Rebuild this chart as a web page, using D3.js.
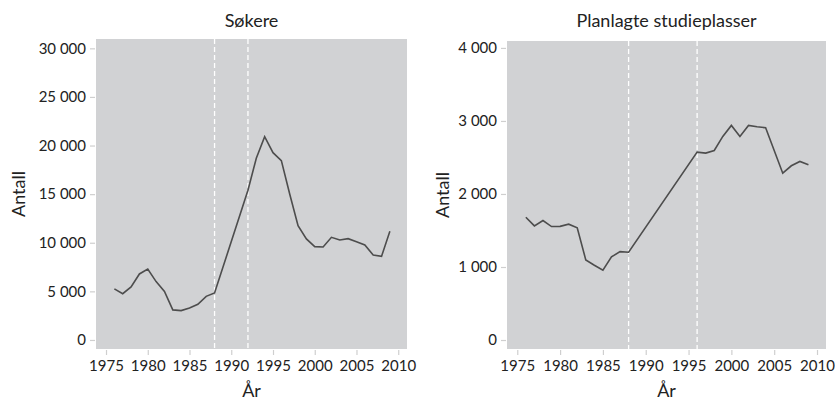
<!DOCTYPE html>
<html>
<head>
<meta charset="utf-8">
<script src="https://cdn.jsdelivr.net/npm/d3@7"></script>
<style>
  body { margin: 0; background: #fff; }
  svg text { font-family: Lato, "Open Sans", sans-serif; fill: #222; }
</style>
</head>
<body>
<div id="viz"></div>
<script>
// Søkere (applicants), 1989-1991 missing in source
const sokereYears = [1976, 1977, 1978, 1979, 1980, 1981, 1982, 1983, 1984, 1985, 1986, 1987, 1988,
  1992, 1993, 1994, 1995, 1996, 1997, 1998, 1999, 2000, 2001, 2002, 2003, 2004, 2005, 2006, 2007, 2008, 2009];
const sokereValues = [5250, 4760, 5450, 6790, 7300, 6000, 5000, 3090, 3020, 3290, 3670, 4490, 4830,
  15400, 18690, 20910, 19270, 18450, 15020, 11760, 10390, 9600, 9570, 10560, 10290, 10420, 10110, 9770, 8740, 8600, 11180];

// Planlagte studieplasser (planned study places)
const plasserYears = [1976, 1977, 1978, 1979, 1980, 1981, 1982, 1983, 1984, 1985, 1986, 1987, 1988,
  1996, 1997, 1998, 1999, 2000, 2001, 2002, 2003, 2004, 2006, 2007, 2008, 2009];
const plasserValues = [1682, 1563, 1636, 1554, 1556, 1586, 1536, 1097, 1024, 955, 1138, 1211, 1202,
  2573, 2560, 2596, 2788, 2939, 2788, 2939, 2920, 2907, 2285, 2386, 2445, 2400];

const xTicks = [1975, 1980, 1985, 1990, 1995, 2000, 2005, 2010];
const sokereTicks = [0, 5000, 10000, 15000, 20000, 25000, 30000];
const plasserTicks = [0, 1000, 2000, 3000, 4000];
const sokereMarkers = [1988, 1992];
const plasserMarkers = [1988, 1996];

const fmt = v => d3.format(",")(v).replace(/,/g, " ");

const svg = d3.select("#viz").append("svg")
  .attr("width", 835)
  .attr("height", 401);

function panel(opts) {
  const {left, right, top, bottom, title, years, values, yTicks, yDomain, markers} = opts;
  const g = svg.append("g");

  const x = d3.scaleLinear().domain([1973.8, 2011.05]).range([left, right]);
  const y = d3.scaleLinear().domain(yDomain).range([bottom, top]);

  g.append("rect")
    .attr("x", left).attr("y", top)
    .attr("width", right - left).attr("height", bottom - top)
    .attr("fill", "#d1d2d4");

  const yAxis = g.append("g")
    .attr("transform", `translate(${left - 1},0)`)
    .call(d3.axisLeft(y).tickValues(yTicks).tickFormat(fmt).tickSize(5).tickPadding(4));
  yAxis.select(".domain").remove();
  yAxis.selectAll("line").attr("stroke", "#cfcfcf").attr("stroke-width", 1.2);
  yAxis.selectAll("text").style("font-size", "15px").attr("fill", "#222");

  const xAxis = g.append("g")
    .attr("transform", `translate(0,${bottom + 1})`)
    .call(d3.axisBottom(x).tickValues(xTicks).tickFormat(d3.format("d")).tickSize(5).tickPadding(5));
  xAxis.select(".domain").remove();
  xAxis.selectAll("line").attr("stroke", "#cfcfcf").attr("stroke-width", 1.2);
  xAxis.selectAll("text").style("font-size", "15px").attr("fill", "#222");

  g.selectAll(".marker")
    .data(markers)
    .join("line")
      .attr("class", "marker")
      .attr("x1", d => x(d)).attr("x2", d => x(d))
      .attr("y1", top).attr("y2", bottom)
      .attr("stroke", "#fff")
      .attr("stroke-width", 1.3)
      .attr("stroke-dasharray", "5,3");

  const pts = years.map((yr, i) => [yr, values[i]]);
  g.append("path")
    .datum(pts)
    .attr("fill", "none")
    .attr("stroke", "#4d4d4d")
    .attr("stroke-width", 1.6)
    .attr("d", d3.line().x(d => x(d[0])).y(d => y(d[1])));

  const cx = (left + right) / 2;
  g.append("text")
    .attr("x", cx).attr("y", 27)
    .attr("text-anchor", "middle")
    .style("font-size", "18px")
    .text(title);

  g.append("text")
    .attr("x", cx).attr("y", 397)
    .attr("text-anchor", "middle")
    .style("font-size", "18px")
    .text("År");

  g.append("text")
    .attr("transform", `translate(${opts.yLabelX},${(top + bottom) / 2}) rotate(-90)`)
    .attr("text-anchor", "middle")
    .style("font-size", "18px")
    .text("Antall");
}

panel({
  left: 96, right: 407, top: 39, bottom: 349,
  title: "Søkere",
  years: sokereYears, values: sokereValues,
  yTicks: sokereTicks, yDomain: [-930, 30960],
  markers: sokereMarkers, yLabelX: 25
});

panel({
  left: 507, right: 826, top: 41, bottom: 349,
  title: "Planlagte studieplasser",
  years: plasserYears, values: plasserValues,
  yTicks: plasserTicks, yDomain: [-123, 4095],
  markers: plasserMarkers, yLabelX: 449
});
</script>
</body>
</html>
